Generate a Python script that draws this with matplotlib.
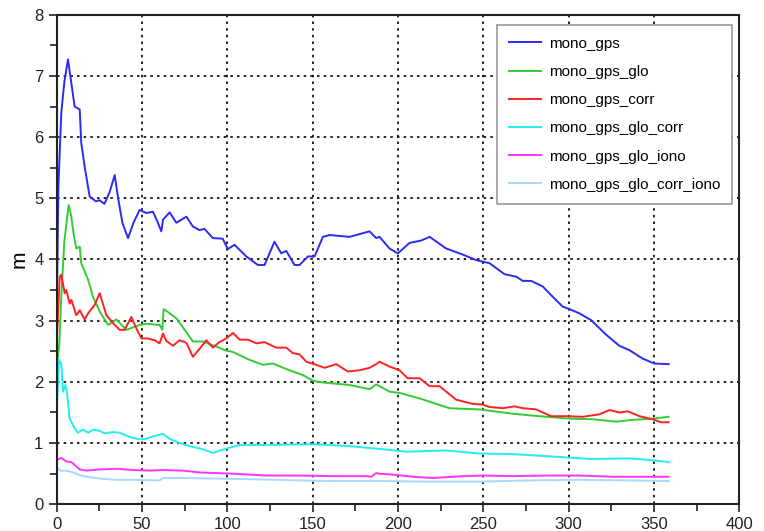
import numpy as np
import matplotlib.pyplot as plt
from matplotlib.ticker import MultipleLocator

plt.rcParams['font.family'] = ['Liberation Sans', 'DejaVu Sans']

# values (x: epoch, y: metres)
gps_x = [0, 1, 2.7, 4.5, 6.6, 8.5, 10.5, 13.5, 14.4, 16.5, 19.3, 23, 25, 28, 31, 34, 36,
         38.5, 41.8, 45, 48.6, 52.5, 56.4, 59, 61.3, 62.3, 66.2, 70.1, 76, 79.8, 83.7,
         86.6, 91.5, 97.3, 100.3, 104.2, 111.1, 117.9, 121.8, 127.6, 131.6, 134.5,
         139.4, 142.3, 147.2, 151.1, 156, 159.9, 171.6, 183.3, 187.2, 189.2, 195,
         199.9, 206.7, 213.6, 218.5, 228.2, 238, 245.8, 253.6, 262.4, 269.2, 273.1,
         278, 284.8, 290.7, 296.5, 300.4, 306.3, 313.1, 322, 329.7, 335.5, 343.4,
         350.2, 358.6]
gps_y = [3.0, 5.2, 6.4, 6.9, 7.27, 6.9, 6.5, 6.45, 5.9, 5.5, 5.03, 4.95, 4.97, 4.91,
         5.1, 5.38, 5.0, 4.6, 4.35, 4.6, 4.81, 4.76, 4.78, 4.62, 4.46, 4.65, 4.77, 4.6,
         4.70, 4.54, 4.48, 4.50, 4.35, 4.34, 4.17, 4.24, 4.05, 3.91, 3.91, 4.29, 4.10,
         4.14, 3.91, 3.91, 4.05, 4.05, 4.37, 4.40, 4.37, 4.46, 4.35, 4.37, 4.18, 4.10,
         4.27, 4.31, 4.37, 4.18, 4.08, 3.99, 3.94, 3.76, 3.72, 3.65, 3.65, 3.56, 3.39,
         3.23, 3.19, 3.12, 3.01, 2.77, 2.59, 2.52, 2.38, 2.30, 2.29]

glo_x = [0, 1.5, 2.7, 4.5, 7, 8.6, 10, 11.5, 13.5, 14.4, 18.4, 21.3, 25.2, 30.1, 35,
         40.8, 48.6, 52.5, 60.3, 61.9, 62.7, 66.2, 70.1, 75, 79.8, 85.6, 91.5, 99.4,
         103.2, 113, 120.8, 126.7, 136.4, 144.3, 150.1, 156, 171.6, 183.3, 187.2,
         189.2, 195, 200.9, 212.6, 230.2, 247.7, 267.2, 286.8, 300.4, 314.1, 327.8,
         337.5, 349.2, 358.6]
glo_y = [2.25, 2.6, 3.4, 4.3, 4.89, 4.70, 4.4, 4.18, 4.21, 3.94, 3.67, 3.39, 3.15, 2.93,
         3.02, 2.85, 2.93, 2.95, 2.93, 2.85, 3.19, 3.12, 3.04, 2.85, 2.66, 2.66, 2.60,
         2.51, 2.49, 2.36, 2.28, 2.30, 2.19, 2.11, 2.02, 1.99, 1.95, 1.88, 1.96, 1.93,
         1.84, 1.82, 1.73, 1.57, 1.55, 1.48, 1.43, 1.40, 1.39, 1.35, 1.38, 1.40, 1.43]

corr_x = [0, 1.8, 2.7, 4.7, 5.6, 7.6, 8.6, 11.5, 13.5, 16.4, 18.4, 22.3, 25.2, 29.1, 33,
          36.9, 39.8, 43.7, 46.6, 49.6, 53.5, 57.4, 60.3, 62.3, 64.2, 68.1, 72, 76,
          79.8, 83.7, 87.7, 91.5, 95.4, 99.4, 103.3, 107.2, 112, 117, 121.8, 128.6,
          134.5, 138.4, 142.3, 146.2, 152, 156.9, 163.8, 170.6, 177.4, 183.3, 187.2,
          189.2, 195, 200.9, 205.7, 212.6, 218.5, 224.3, 234, 243.8, 249.6, 253.6,
          261.4, 268.2, 273.1, 280.9, 289.7, 298.5, 308.3, 318, 323.9, 329.7, 334.6,
          341.4, 349.2, 354.1, 358.6]
corr_y = [2.65, 3.72, 3.75, 3.45, 3.50, 3.28, 3.34, 3.09, 3.17, 3.02, 3.12, 3.26, 3.45,
          3.09, 2.96, 2.85, 2.85, 3.06, 2.88, 2.71, 2.71, 2.68, 2.63, 2.79, 2.67, 2.59,
          2.68, 2.64, 2.41, 2.54, 2.68, 2.56, 2.65, 2.71, 2.80, 2.69, 2.69, 2.63, 2.65,
          2.56, 2.56, 2.47, 2.45, 2.33, 2.28, 2.23, 2.29, 2.17, 2.19, 2.23, 2.29, 2.33,
          2.25, 2.19, 2.06, 2.06, 1.93, 1.93, 1.71, 1.64, 1.63, 1.59, 1.57, 1.60, 1.57,
          1.55, 1.44, 1.44, 1.43, 1.47, 1.54, 1.50, 1.52, 1.44, 1.39, 1.34, 1.34]

glo_corr_x = [0, 1.4, 2.7, 3.7, 5.1, 6.1, 7.6, 10.5, 12.5, 15.4, 18.4, 21.3, 25.2, 28.1,
              33, 36.9, 42.7, 48.6, 52.5, 56.4, 62.3, 66.2, 72, 77.9, 85.7, 91.5, 99.4,
              107.2, 122.8, 142.3, 152, 171.6, 187.2, 204.8, 228.2, 247.7, 267.2,
              296.5, 312.2, 335.5, 349.2, 358.6]
glo_corr_y = [1.51, 2.36, 2.29, 1.84, 1.95, 1.81, 1.40, 1.24, 1.17, 1.22, 1.17, 1.22,
              1.20, 1.16, 1.18, 1.17, 1.10, 1.06, 1.07, 1.11, 1.15, 1.07, 1.00, 0.95,
              0.90, 0.84, 0.91, 0.97, 0.97, 0.98, 0.98, 0.95, 0.91, 0.86, 0.88, 0.83,
              0.82, 0.77, 0.74, 0.75, 0.72, 0.69]

iono_x = [0, 2.7, 5.6, 8.6, 13.5, 17.4, 25.2, 35, 44.7, 54.5, 62.3, 74, 83.7, 103.2,
          122.8, 142.3, 161.9, 181.4, 184.3, 187.2, 189.2, 198.9, 208.7, 220.4, 238,
          249.6, 267.2, 286.8, 306.3, 325.8, 345.4, 358.6]
iono_y = [0.72, 0.76, 0.70, 0.69, 0.57, 0.55, 0.57, 0.58, 0.56, 0.55, 0.56, 0.55, 0.52,
          0.50, 0.47, 0.47, 0.46, 0.46, 0.45, 0.51, 0.50, 0.48, 0.45, 0.43, 0.46, 0.47,
          0.46, 0.47, 0.47, 0.45, 0.45, 0.45]

corr_iono_x = [0, 2, 5.6, 9.5, 15.4, 25.2, 35, 44.7, 60.3, 62.3, 74, 93.5, 113, 142.3,
               161.9, 189.2, 218.5, 247.7, 277, 306.3, 335.5, 358.6]
corr_iono_y = [0.61, 0.55, 0.55, 0.52, 0.46, 0.42, 0.40, 0.40, 0.39, 0.43, 0.43, 0.42,
               0.41, 0.39, 0.38, 0.38, 0.37, 0.37, 0.39, 0.40, 0.39, 0.38]

series = [
    ('mono_gps', gps_x, gps_y, '#2b2bf5'),
    ('mono_gps_glo', glo_x, glo_y, '#33cc33'),
    ('mono_gps_corr', corr_x, corr_y, '#ff2222'),
    ('mono_gps_glo_corr', glo_corr_x, glo_corr_y, '#22eeee'),
    ('mono_gps_glo_iono', iono_x, iono_y, '#ff33ff'),
    ('mono_gps_glo_corr_iono', corr_iono_x, corr_iono_y, '#a8d8ff'),
]

fig = plt.figure(figsize=(7.64, 5.31), dpi=100)
ax = fig.add_axes([0.0742, 0.0503, 0.8935, 0.9220])

for name, xs, ys, col in series:
    ax.plot(xs, ys, color=col, lw=1.4, label=name)

ax.set_xlim(0, 400)
ax.set_ylim(0, 8)
ax.xaxis.set_major_locator(MultipleLocator(50))
ax.xaxis.set_minor_locator(MultipleLocator(25))
ax.yaxis.set_major_locator(MultipleLocator(1))
ax.yaxis.set_minor_locator(MultipleLocator(0.5))
ax.tick_params(which='both', direction='out', width=1.2, labelsize=12, colors='#222222')
ax.tick_params(which='major', length=6)
ax.tick_params(which='minor', length=5)
ax.grid(True, which='major', color='black', linestyle=(0, (1.5, 2.5)), lw=1.2)
for s in ax.spines.values():
    s.set_linewidth(1.5)
    s.set_color('#222222')

ax.set_ylabel('m', fontsize=15, labelpad=4)

leg = ax.legend(loc='upper right', bbox_to_anchor=(0.99, 0.98), fontsize=11,
                fancybox=False, edgecolor='#999999', framealpha=1,
                handlelength=2.1, handletextpad=0.5, labelspacing=0.93,
                borderpad=0.8, borderaxespad=0)
leg.get_frame().set_linewidth(1.2)

fig.savefig('out.png', dpi=100)
